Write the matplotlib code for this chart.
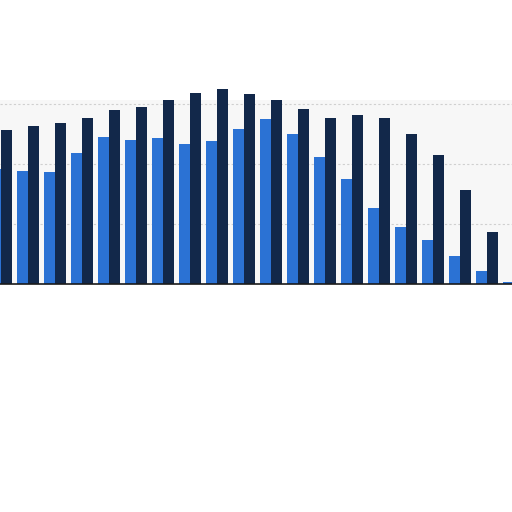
import numpy as np
import matplotlib.pyplot as plt

# bar heights (grid step = 10)
groups = np.arange(20)
light = [19.2, 18.8, 18.7, 21.8, 24.5, 24.0, 24.3, 23.3, 23.8, 25.8,
         27.5, 25.0, 21.2, 17.5, 12.7, 9.5, 7.3, 4.7, 2.2, 0.3]
dark = [25.7, 26.3, 26.8, 27.7, 29.0, 29.5, 30.7, 31.8, 32.5, 31.7,
        30.7, 29.2, 27.7, 28.2, 27.7, 25.0, 21.5, 15.7, 8.7, 4.2]

fig = plt.figure(figsize=(5.12, 5.12), dpi=100)
ax = fig.add_axes([0, 228 / 512, 1, 184 / 512])
ax.set_facecolor('#f7f7f7')

w = 0.41
ax.bar(groups - 0.204, light, width=w, color='#2b72d4', clip_on=False, zorder=3)
ax.bar(groups + 0.204, dark, width=w, color='#12284a', clip_on=False, zorder=3)

ax.set_xlim(-0.037, 18.93)
ax.set_ylim(0, 30.7)
ax.set_yticks([10, 20, 30])
ax.grid(axis='y', color='#d0d0d0', linestyle=(0, (2, 2)), linewidth=0.8, zorder=0)
ax.tick_params(left=False, bottom=False, labelleft=False, labelbottom=False)
for side in ['left', 'right', 'top']:
    ax.spines[side].set_visible(False)
ax.spines['bottom'].set_color('#1a1a1a')
ax.spines['bottom'].set_linewidth(1.2)
ax.spines['bottom'].set_zorder(4)

fig.savefig('out.png', dpi=100, facecolor='white')
